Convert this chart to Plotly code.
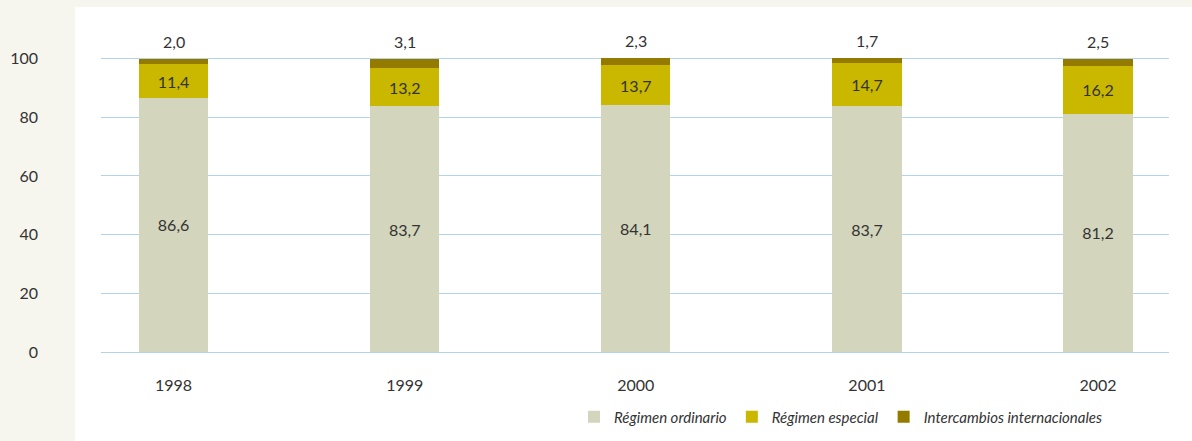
import plotly.graph_objects as go

# Generation shares by year (%)
years = ["1998", "1999", "2000", "2001", "2002"]
ordinario = [86.6, 83.7, 84.1, 83.7, 81.2]
especial = [11.4, 13.2, 13.7, 14.7, 16.2]
intercambios = [2.0, 3.1, 2.3, 1.7, 2.5]

series_names = ["Régimen ordinario", "Régimen especial", "Intercambios internacionales"]
series_colors = ["#d3d5bc", "#c9b700", "#957a00"]
y_ticks = [0, 20, 40, 60, 80, 100]

FONT = "Lato, Open Sans, sans-serif"
TEXT_COLOR = "#333333"
GRID = "#b3d3ea"


def fmt(v):
    return f"{v:.1f}".replace(".", ",")


fig = go.Figure()

for name, vals, color in zip(series_names[:2], [ordinario, especial], series_colors[:2]):
    fig.add_trace(go.Bar(
        x=years, y=vals, name=name,
        marker=dict(color=color, line=dict(width=0)),
        text=[fmt(v) for v in vals],
        textposition="inside", insidetextanchor="middle",
        textfont=dict(family=FONT, size=16, color=TEXT_COLOR),
        width=0.3,
    ))

fig.add_trace(go.Bar(
    x=years, y=intercambios, name=series_names[2],
    marker=dict(color=series_colors[2], line=dict(width=0)),
    textposition="none", width=0.3,
))

# values of the top segment printed above each stack
for i, (a, b, c) in enumerate(zip(ordinario, especial, intercambios)):
    fig.add_annotation(
        x=i, y=a + b + c, text=fmt(c), showarrow=False,
        yanchor="bottom", yshift=6,
        font=dict(family=FONT, size=16, color=TEXT_COLOR),
    )

# plot area: y=0 at 352px, 2.93px per unit, range up to 106
Y_MAX = 106
top_px = round(352 - Y_MAX * 2.93)
plot_h = 352 - top_px

# white panel behind the plotting area
fig.add_shape(
    type="rect", xref="paper", yref="paper",
    x0=(75 - 101) / 1068, x1=(1192 - 101) / 1068,
    y0=(352 - 441) / plot_h, y1=(352 - 7) / plot_h,
    fillcolor="white", line=dict(width=0), layer="below",
)

fig.update_layout(
    barmode="stack",
    width=1192, height=441,
    margin=dict(l=101, r=23, t=top_px, b=89, autoexpand=False),
    paper_bgcolor="#f6f6ef",
    plot_bgcolor="rgba(0,0,0,0)",
    font=dict(family=FONT, size=15, color=TEXT_COLOR),
    showlegend=True,
    legend=dict(
        orientation="h", x=(1108 - 101) / 1068, xanchor="right",
        y=(352 - 417) / plot_h, yanchor="middle",
        bgcolor="rgba(0,0,0,0)",
        font=dict(family=FONT, size=15, color=TEXT_COLOR, style="italic"),
        traceorder="normal", itemwidth=30,
    ),
    xaxis=dict(
        type="category",
        range=[-0.314, 4.307], showgrid=False, zeroline=False, showline=False,
        ticks="", ticklabelstandoff=22,
        tickfont=dict(family=FONT, size=16, color=TEXT_COLOR),
    ),
    yaxis=dict(
        range=[0, Y_MAX], tickvals=y_ticks, showgrid=True, gridcolor=GRID,
        gridwidth=1, zeroline=True, zerolinecolor=GRID, zerolinewidth=1,
        showline=False, ticks="", ticklabelstandoff=62,
        tickfont=dict(family=FONT, size=16, color=TEXT_COLOR),
    ),
)

for tr in fig.data:
    tr.cliponaxis = False

fig.write_html("out.html")
